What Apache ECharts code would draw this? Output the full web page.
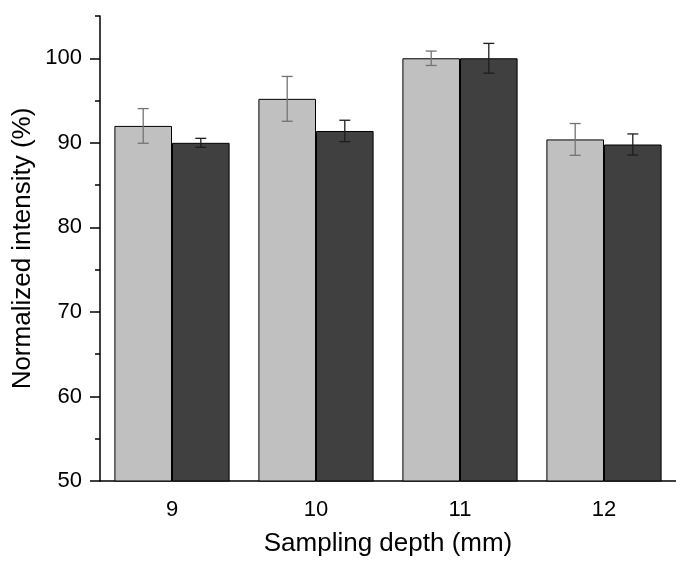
<!DOCTYPE html>
<html>
<head>
<meta charset="utf-8">
<script src="https://cdn.jsdelivr.net/npm/echarts@6/dist/echarts.min.js"></script>
<style>
    html, body { margin: 0; padding: 0; background: #fff; }
    #chart { width: 676px; height: 562px; }
</style>
</head>
<body>
<div id="chart"></div>
<script>
    // values
    var depths = ['9', '10', '11', '12'];
    var lightVals = [92.0, 95.2, 100.0, 90.4];
    var lightErr = [2.05, 2.65, 0.85, 1.88];
    var darkVals = [90.0, 91.4, 100.0, 89.8];
    var darkErr = [0.53, 1.27, 1.76, 1.25];
    var majorTicks = [50, 60, 70, 80, 90, 100];

    var FONT = 'Liberation Sans, Arial, sans-serif';

    function errData(vals, errs) {
        var out = [];
        for (var i = 0; i < vals.length; i++) {
            out.push([i, vals[i] - errs[i], vals[i] + errs[i]]);
        }
        return out;
    }

    // side: -1 = left bar of the pair, 1 = right bar
    function errRender(side, color) {
        return function (params, api) {
            var idx = api.value(0);
            var lo = api.coord([idx, api.value(1)]);
            var hi = api.coord([idx, api.value(2)]);
            var band = api.size([1, 0])[0];
            var x = lo[0] + side * band * 0.2;
            var cap = 5.5;
            var style = { stroke: color, lineWidth: 1.3 };
            return {
                type: 'group',
                children: [
                    { type: 'line', shape: { x1: x, y1: lo[1], x2: x, y2: hi[1] }, style: style },
                    { type: 'line', shape: { x1: x - cap, y1: lo[1], x2: x + cap, y2: lo[1] }, style: style },
                    { type: 'line', shape: { x1: x - cap, y1: hi[1], x2: x + cap, y2: hi[1] }, style: style }
                ]
            };
        };
    }

    var chart = echarts.init(document.getElementById('chart'));
    var option = {
        animation: false,
        backgroundColor: '#fff',
        grid: { left: 100, right: -4, top: 16, bottom: 80 },
        xAxis: [{
            type: 'category',
            data: depths,
            name: 'Sampling depth (mm)',
            nameLocation: 'middle',
            nameGap: 50,
            nameTextStyle: { fontFamily: FONT, fontSize: 26, color: '#000' },
            axisLine: { lineStyle: { color: '#000', width: 1.5 } },
            axisTick: { alignWithLabel: true, length: 10, lineStyle: { color: '#000', width: 1.5 } },
            axisLabel: { margin: 18, fontFamily: FONT, fontSize: 22, color: '#000' },
            splitLine: { show: false }
        }, {
            type: 'category',
            data: depths,
            position: 'bottom',
            axisLine: { show: false },
            axisTick: { interval: 0, length: 5, lineStyle: { color: '#000', width: 1.5 } },
            axisLabel: { show: false },
            splitLine: { show: false }
        }],
        yAxis: [{
            type: 'value',
            min: 50,
            max: 105,
            interval: 5,
            position: 'left',
            name: 'Normalized intensity (%)',
            nameLocation: 'middle',
            nameGap: 64,
            nameTextStyle: { fontFamily: FONT, fontSize: 26, color: '#000' },
            axisLine: { show: true, lineStyle: { color: '#000', width: 1.5 } },
            axisTick: { show: true, length: 5, lineStyle: { color: '#000', width: 1.5 } },
            axisLabel: { show: false },
            splitLine: { show: false }
        }, {
            type: 'value',
            min: 50,
            max: 105,
            position: 'left',
            axisLine: { show: false },
            axisTick: { show: true, length: 10, customValues: majorTicks, lineStyle: { color: '#000', width: 1.5 } },
            axisLabel: { customValues: majorTicks, margin: 18, fontFamily: FONT, fontSize: 22, color: '#000' },
            splitLine: { show: false }
        }],
        series: [{
            type: 'bar',
            data: lightVals,
            barGap: '0%',
            barCategoryGap: '20%',
            itemStyle: { color: '#c0c0c0', borderColor: '#000', borderWidth: 1 }
        }, {
            type: 'bar',
            data: darkVals,
            barGap: '0%',
            barCategoryGap: '20%',
            itemStyle: { color: '#404040', borderColor: '#000', borderWidth: 1 }
        }, {
            type: 'custom',
            data: errData(lightVals, lightErr),
            renderItem: errRender(-1, '#737373'),
            encode: { x: 0, y: [1, 2] },
            z: 10
        }, {
            type: 'custom',
            data: errData(darkVals, darkErr),
            renderItem: errRender(1, '#1e1e1e'),
            encode: { x: 0, y: [1, 2] },
            z: 10
        }]
    };
    chart.setOption(option);
</script>
</body>
</html>
